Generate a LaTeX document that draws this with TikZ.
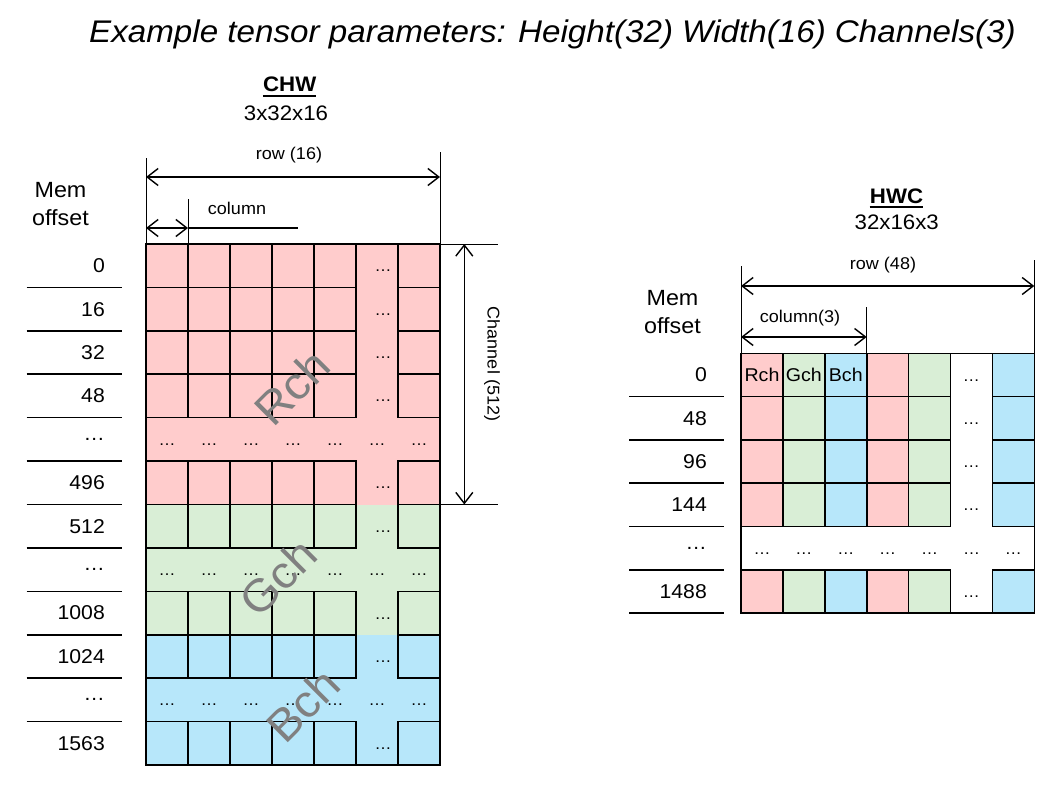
\documentclass[tikz,border=0pt]{standalone}
\usepackage{fontspec}
\setmainfont{Liberation Sans}[FakeStretch=1.06]
\usepackage{tikz}
\usetikzlibrary{arrows.meta}
\definecolor{rpink}{RGB}{255,204,204}
\definecolor{ggreen}{RGB}{217,238,214}
\definecolor{bblue}{RGB}{183,231,250}
\definecolor{chgray}{RGB}{128,128,128}
\newcommand{\pxfont}[1]{\fontsize{#1}{#1}\selectfont}

\begin{document}
\begin{tikzpicture}[x=10pt,y=10pt,
  cell/.style={draw=black,line width=1.6pt},
  dotmark/.style={font=\pxfont{16},text height=13pt,text depth=1pt},
  offset/.style={font=\pxfont{20},anchor=east},
  sepline/.style={line width=1.6pt},
  extline/.style={line width=0.9pt},
  dimline/.style={line width=1.4pt,{Straight Barb[length=11pt,width=17pt]}-{Straight Barb[length=11pt,width=17pt]}},
  dimlabel/.style={font=\pxfont{17}},
  chlabel/.style={font=\pxfont{45},text=chgray,rotate=45}]
\tikzstyle{every node}+=[inner sep=0pt]
\useasboundingbox (0,0) rectangle (104.8,-79.7);
\node [font=\pxfont{31.3}\itshape] (title) at (55.25,-3.4) {Example tensor parameters: Height(32) Width(16) Channels(3)};
% CHW side
\node [font=\pxfont{21}\bfseries] (chwname) at (28.97,-8.47) {CHW};
\draw [line width=1.5pt] ([yshift=-3.5pt]chwname.south west) -- ([yshift=-3.5pt]chwname.south east);
\node [font=\pxfont{21}] (chwsize) at (28.6,-11.3) {3x32x16};
\node [font=\fontsize{22}{28}\selectfont,align=center] (chwmem) at (6.05,-20.4) {Mem\\offset};
\fill [rpink] (14.6,-24.4) rectangle (44.0,-50.45);
\fill [ggreen] (14.6,-50.45) rectangle (44.0,-63.475);
\fill [bblue] (14.6,-63.475) rectangle (44.0,-76.5);
\foreach \r in {0,1,2,3,5,6,8,9,11} {
  \foreach \c in {0,1,2,3,4,6}
    \draw [cell] ({14.6+4.2*\c},{-24.4-4.3417*\r}) rectangle +(4.2,-4.3417);
  \node [dotmark] (chw-\r-5) at (38.3,{-26.571-4.3417*\r}) {…};
}
\foreach \r in {4,7,10}
  \foreach \c in {0,...,6}
    \node [dotmark] (chw-\r-\c) at ({16.7+4.2*\c},{-26.571-4.3417*\r}) {…};
\draw [cell] (14.6,-24.4) rectangle (44.0,-76.5);
\foreach \r/\t in {0/0,1/16,2/32,3/48,4/…,5/496,6/512,7/…,8/1008,9/1024,10/…,11/1563}
  \node [offset] (chwoff-\r) at (10.5,{-26.571-4.3417*\r}) {\t};
\foreach \r in {1,...,11}
  \draw [sepline] (2.67,{-24.4-4.3417*\r}) -- (12.17,{-24.4-4.3417*\r});
\node [chlabel] (rchtag) at (29.2,-38.7) {Rch};
\node [chlabel] (gchtag) at (27.8,-57.7) {Gch};
\node [chlabel] (bchtag) at (30.3,-70.5) {Bch};
\coordinate (chwrowA) at (14.6,-17.7);
\coordinate (chwrowB) at (44.0,-17.7);
\coordinate (chwcolB) at (18.8,-22.8);
\draw [extline] (14.6,-15.8) -- (14.6,-24.4);
\draw [extline] (44.0,-15.2) -- (44.0,-24.4);
\draw [extline] (18.8,-19.9) -- (18.8,-24.4);
\draw [dimline] (chwrowA) -- (chwrowB);
\node [dimlabel] (chwrowtxt) at (28.9,-15.5) {row (16)};
\draw [dimline] (14.6,-22.8) -- (chwcolB);
\draw [line width=1.3pt] (chwcolB) -- (29.8,-22.8);
\node [dimlabel] (chwcoltxt) at (23.7,-20.8) {column};
\coordinate (chwchA) at (46.43,-24.4);
\coordinate (chwchB) at (46.43,-50.45);
\draw [extline] (44.0,-24.4) -- (49.8,-24.4);
\draw [extline] (44.0,-50.45) -- (49.8,-50.45);
\draw [dimline] (chwchA) -- (chwchB);
\node [dimlabel,rotate=-90] (chwchtxt) at (49.2,-36.4) {Channel (512)};
% HWC side
\node [font=\pxfont{21}\bfseries] (hwcname) at (89.65,-19.58) {HWC};
\draw [line width=1.5pt] ([yshift=-3.5pt]hwcname.south west) -- ([yshift=-3.5pt]hwcname.south east);
\node [font=\pxfont{21}] (hwcsize) at (89.67,-22.2) {32x16x3};
\node [font=\fontsize{22}{28}\selectfont,align=center] (hwcmem) at (67.25,-31.2) {Mem\\offset};
\foreach \r in {0,1,2,3,5} {
  \foreach \c/\col in {0/rpink,1/ggreen,2/bblue,3/rpink,4/ggreen,6/bblue}
    \draw [cell,fill=\col] ({74.1+4.19*\c},{-35.33-4.33*\r}) rectangle +(4.19,-4.33);
  \node [dotmark] (hwc-\r-5) at (97.14,{-37.5-4.33*\r}) {…};
}
\foreach \c in {0,...,6}
  \node [dotmark] (hwc-4-\c) at ({76.2+4.19*\c},-54.82) {…};
\draw [cell] (74.1,-35.33) rectangle (103.43,-61.31);
\node [font=\pxfont{18.5}] (hwcr) at (76.2,-37.5) {Rch};
\node [font=\pxfont{18.5}] (hwcg) at (80.39,-37.5) {Gch};
\node [font=\pxfont{18.5}] (hwcb) at (84.58,-37.5) {Bch};
\foreach \r/\t in {0/0,1/48,2/96,3/144,4/…,5/1488}
  \node [offset] (hwcoff-\r) at (70.7,{-37.5-4.33*\r}) {\t};
\foreach \r in {1,...,6}
  \draw [sepline] (62.9,{-35.33-4.33*\r}) -- (72.4,{-35.33-4.33*\r});
\coordinate (hwcrowA) at (74.1,-28.6);
\coordinate (hwcrowB) at (103.43,-28.6);
\coordinate (hwccolA) at (74.1,-33.7);
\coordinate (hwccolB) at (86.67,-33.7);
\draw [extline] (74.1,-26.6) -- (74.1,-35.33);
\draw [extline] (103.43,-26.0) -- (103.43,-35.33);
\draw [extline] (86.67,-30.7) -- (86.67,-35.33);
\draw [dimline] (hwcrowA) -- (hwcrowB);
\node [dimlabel] (hwcrowtxt) at (88.3,-26.5) {row (48)};
\draw [dimline] (hwccolA) -- (hwccolB);
\node [dimlabel] (hwccoltxt) at (80.0,-31.8) {column(3)};
\end{tikzpicture}
\end{document}
